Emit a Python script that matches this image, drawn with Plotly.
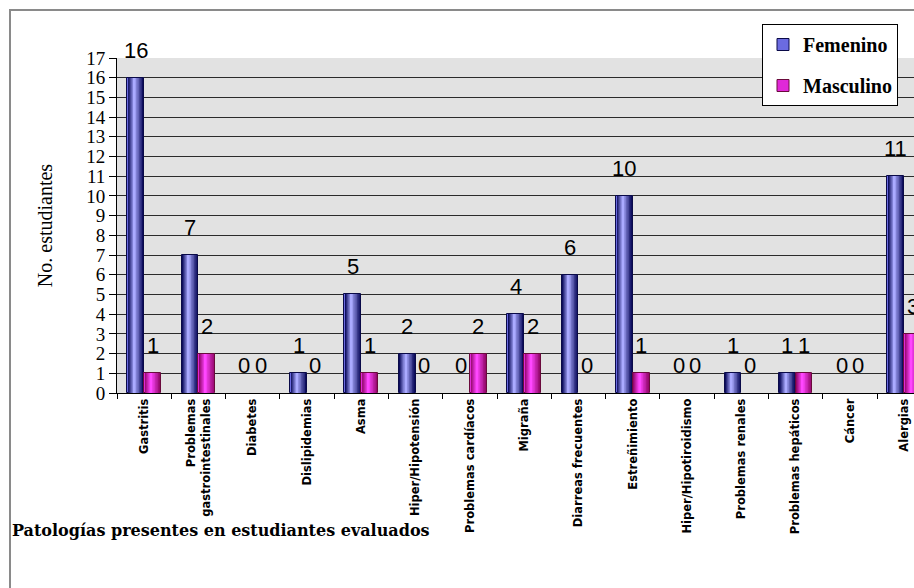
import plotly.graph_objects as go

# Categories and counts per sex
categories = [
    "Gastritis",
    "Problemas<br>gastrointestinales",
    "Diabetes",
    "Dislipidemias",
    "Asma",
    "Hiper/Hipotensión",
    "Problemas cardíacos",
    "Migraña",
    "Diarreas frecuentes",
    "Estreñimiento",
    "Hiper/Hipotiroidismo",
    "Problemas renales",
    "Problemas hepáticos",
    "Cáncer",
    "Alergias",
]
femenino = [16, 7, 0, 1, 5, 2, 0, 4, 6, 10, 0, 1, 1, 0, 11]
masculino = [1, 2, 0, 0, 1, 0, 2, 2, 0, 1, 0, 0, 1, 0, 3]

y_ticks = list(range(0, 18))

BAR_W = 0.31      # width of each bar in category units
LAYERS = 12       # number of overlaid strips used for the cylinder shading
HIGHLIGHT = 0.4   # relative position of the bright stripe inside a bar

series = [
    dict(name="Femenino", values=femenino, offset=-BAR_W,
         dark=(14, 14, 95), light=(170, 170, 255),
         base="#6b6be0", edge="#0a0a48"),
    dict(name="Masculino", values=masculino, offset=0.0,
         dark=(150, 8, 110), light=(255, 70, 255),
         base="#e028d8", edge="#6a0a3c"),
]


def mix(c1, c2, t):
    return "rgb(%d,%d,%d)" % tuple(round(a + (b - a) * t) for a, b in zip(c1, c2))


fig = go.Figure()

for s in series:
    # full bar with outline (also provides the legend swatch)
    fig.add_trace(go.Bar(
        x=categories, y=s["values"], name=s["name"], legendgroup=s["name"],
        width=BAR_W, offset=s["offset"],
        marker=dict(color=s["base"],
                    line=dict(color=s["edge"], width=[1 if v else 0 for v in s["values"]])),
        hoverinfo="skip",
    ))
    # narrowing strips, dark to light, for a shaded look
    for k in range(LAYERS):
        f = 0.9 * (1 - k / LAYERS)
        t = k / (LAYERS - 1)
        fig.add_trace(go.Bar(
            x=categories, y=s["values"], showlegend=False, legendgroup=s["name"],
            width=BAR_W * f, offset=s["offset"] + (1 - f) * HIGHLIGHT * BAR_W,
            marker=dict(color=mix(s["dark"], s["light"], t), line=dict(width=0)),
            hoverinfo="skip",
        ))

# value labels above each bar
annotations = []
for s in series:
    for i, v in enumerate(s["values"]):
        annotations.append(dict(
            x=i + s["offset"] + BAR_W / 2, y=v, xref="x", yref="y",
            text=str(v), showarrow=False, yanchor="bottom", yshift=13,
            font=dict(family="Liberation Sans", size=22, color="black"),
        ))

fig.update_layout(
    width=914, height=588,
    margin=dict(l=117, r=0, t=58, b=195, autoexpand=False),
    paper_bgcolor="white",
    plot_bgcolor="#e2e2e2",
    barmode="overlay",
    bargap=0,
    annotations=annotations,
    title=dict(
        text="Patologías presentes en estudiantes evaluados",
        xref="container", yref="container",
        x=12 / 914, y=1 - 530 / 588, xanchor="left", yanchor="middle",
        font=dict(family="DejaVu Serif", size=16, weight="bold", color="black"),
    ),
    legend=dict(
        xref="container", yref="container",
        x=762 / 914, y=1 - 24 / 588, xanchor="left", yanchor="top",
        bgcolor="white", bordercolor="black", borderwidth=1,
        font=dict(family="Liberation Serif", size=20, weight="bold", color="black"),
        tracegroupgap=12, itemwidth=30,
    ),
    shapes=[dict(
        type="rect", xref="paper", yref="paper",
        x0=(10 - 117) / 797, x1=1.2, y0=-1.0, y1=(393 - 10) / 335,
        line=dict(color="#8a8a8a", width=2), fillcolor="rgba(0,0,0,0)",
        layer="below",
    )],
    xaxis=dict(
        type="category", range=[-0.5, 14.18],
        tickson="boundaries", ticks="outside", ticklen=5, tickcolor="black",
        showline=True, linecolor="black", linewidth=1,
        showgrid=False, tickangle=-90,
        tickfont=dict(family="DejaVu Sans", size=11.5, weight="bold", color="black"),
    ),
    yaxis=dict(
        range=[0, 17], tickvals=y_ticks,
        ticks="outside", ticklen=7, tickcolor="black",
        showline=True, linecolor="black", linewidth=1,
        showgrid=True, gridcolor="#2b2b2b", gridwidth=1, zeroline=False,
        tickfont=dict(family="Liberation Serif", size=19, color="black"),
        title=dict(text="No. estudiantes", standoff=28,
                   font=dict(family="Liberation Serif", size=20, color="black")),
    ),
)

fig.write_html("out.html")
